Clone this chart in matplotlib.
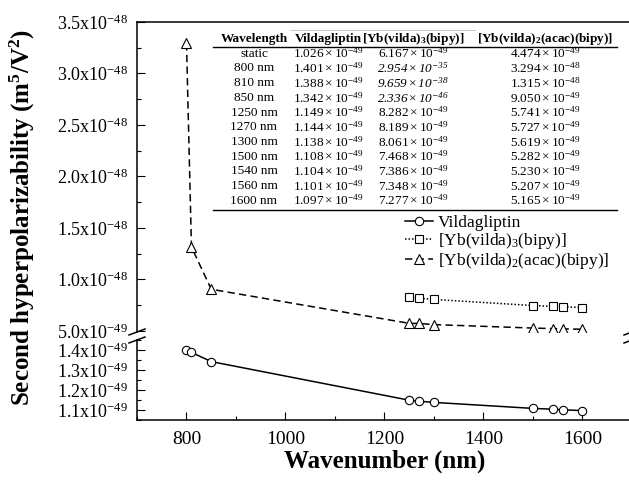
import numpy as np
import matplotlib
matplotlib.use('Agg')
import matplotlib.pyplot as plt
from matplotlib.lines import Line2D
from matplotlib.ticker import MultipleLocator, FuncFormatter

plt.rcParams['font.family'] = 'Liberation Serif'
plt.rcParams['mathtext.fontset'] = 'custom'
plt.rcParams['mathtext.rm'] = 'Liberation Serif'
plt.rcParams['mathtext.it'] = 'Liberation Serif:italic'
plt.rcParams['mathtext.bf'] = 'Liberation Serif:bold'

# table / data
row_labels = ['static', '800 nm', '810 nm', '850 nm', '1250 nm', '1270 nm',
              '1300 nm', '1500 nm', '1540 nm', '1560 nm', '1600 nm']
wavelengths = [800, 810, 850, 1250, 1270, 1300, 1500, 1540, 1560, 1600]
vilda = [1.026e-49, 1.401e-49, 1.388e-49, 1.342e-49, 1.149e-49, 1.144e-49,
         1.138e-49, 1.108e-49, 1.104e-49, 1.101e-49, 1.097e-49]
yb3 = [6.167e-49, 2.954e-35, 9.659e-38, 2.336e-46, 8.282e-49, 8.189e-49,
       8.061e-49, 7.468e-49, 7.386e-49, 7.348e-49, 7.277e-49]
yb2 = [4.474e-49, 3.294e-48, 1.315e-48, 9.050e-49, 5.741e-49, 5.727e-49,
       5.619e-49, 5.282e-49, 5.230e-49, 5.207e-49, 5.165e-49]
italic_rows_yb3 = ['800 nm', '810 nm', '850 nm']

W, H = 629, 484


def fx(px):
    return px / W


def fy(py):
    return 1 - py / H


def split_exp(v):
    e = int(np.floor(np.log10(v) + 1e-9))
    return v / 10.0 ** e, e


def cell_fmt(v):
    m, e = split_exp(v)
    return r'$\mathdefault{%.3f}\times\mathdefault{10^{%d}}$' % (m, e)


def tick_fmt(v, pos):
    if v <= 0:
        return ''
    m, e = split_exp(v)
    return r'%.1fx10$^{%d}$' % (m, e)


fig = plt.figure(figsize=(W / 100, H / 100), dpi=100)

left, right = 137, 632
ax_up = fig.add_axes([fx(left), fy(332), fx(right - left), (332 - 22) / H])
ax_lo = fig.add_axes([fx(left), fy(420), fx(right - left), (420 - 340) / H])

wl = np.array(wavelengths)
v_arr = np.array(vilda[1:])
y3_arr = np.array(yb3[1:])
y2_arr = np.array(yb2[1:])
keep = y3_arr < 3.5e-48

lw = 1.1
l1, = ax_lo.plot(wl, v_arr, '-', color='black', lw=lw, marker='o', ms=6,
                 mfc='white', mec='black', mew=0.8, label='Vildagliptin')
l2, = ax_up.plot(wl[keep], y3_arr[keep], linestyle=(0, (1, 1.3)), color='black', lw=lw,
                 marker='s', ms=5.5, mfc='white', mec='black', mew=0.8,
                 label=r'[Yb(vilda)$_3$(bipy)]')
l3, = ax_up.plot(wl, y2_arr, linestyle=(0, (4.8, 2.8)), color='black', lw=lw,
                 marker='^', ms=7, mfc='white', mec='black', mew=0.8,
                 label=r'[Yb(vilda)$_2$(acac)(bipy)]')

for ax in (ax_up, ax_lo):
    ax.set_xlim(700, 1700)
    for s in ax.spines.values():
        s.set_linewidth(1.1)
    ax.yaxis.set_major_formatter(FuncFormatter(tick_fmt))
    ax.tick_params(axis='y', which='both', direction='in', right=False,
                   labelsize=13, pad=6.5)
    ax.tick_params(axis='y', which='major', length=5.5, width=0.8)
    ax.tick_params(axis='y', which='minor', length=3, width=0.8)

ax_up.set_ylim(4.9e-49, 3.5e-48)
ax_up.yaxis.set_major_locator(MultipleLocator(5e-49))
ax_up.yaxis.set_minor_locator(MultipleLocator(2.5e-49))
ax_up.spines['bottom'].set_visible(False)
ax_up.tick_params(axis='x', which='both', bottom=False, top=False, labelbottom=False)

ax_lo.set_ylim(1.05e-49, 1.45e-49)
ax_lo.yaxis.set_major_locator(MultipleLocator(1e-50))
ax_lo.yaxis.set_minor_locator(MultipleLocator(5e-51))
ax_lo.spines['top'].set_visible(False)
ax_lo.xaxis.set_major_locator(MultipleLocator(200))
ax_lo.xaxis.set_minor_locator(MultipleLocator(100))
ax_lo.tick_params(axis='x', which='both', direction='in', top=False, labelsize=14, pad=8)
ax_lo.tick_params(axis='x', which='major', length=6, width=0.8)
ax_lo.tick_params(axis='x', which='minor', length=3, width=0.8)

# axis break marks
for xs in (left, right):
    for yc in (332, 340):
        fig.add_artist(Line2D([fx(xs - 8), fx(xs + 8)], [fy(yc + 3), fy(yc - 3)],
                              color='black', lw=1.1))

fig.text(fx(22), fy(218), r'Second hyperpolarizability (m$^{\mathbf{5}}$/V$^{\mathbf{2}}$)',
         rotation=90, ha='center', va='center', fontsize=18, fontweight='bold')
fig.text(fx(385), fy(461), 'Wavenumber (nm)', ha='center', va='center',
         fontsize=18, fontweight='bold')

fig.legend(handles=[l1, l2, l3], loc='upper left',
           bbox_to_anchor=(fx(405), fy(215)), frameon=False, fontsize=12.5,
           handlelength=1.6, handletextpad=0.3, labelspacing=0.0,
           borderpad=0, borderaxespad=0)

# inset table
col_x = [254, 328, 413, 545]
headers = ['Wavelength', 'Vildagliptin', r'[Yb(vilda)$_{\mathbf{3}}$(bipy)]',
           r'[Yb(vilda)$_{\mathbf{2}}$(acac)(bipy)]']
head_y = 39
row_h = 14.7
tsize = 9.5
for cx, h in zip(col_x, headers):
    fig.text(fx(cx), fy(head_y), h, ha='center', va='center', fontsize=tsize,
             fontweight='bold')
for i, lab in enumerate(row_labels):
    ry = head_y + row_h * (i + 1)
    fig.text(fx(col_x[0]), fy(ry), lab, ha='center', va='center', fontsize=tsize)
    fig.text(fx(col_x[1]), fy(ry), cell_fmt(vilda[i]), ha='center', va='center',
             fontsize=tsize)
    fig.text(fx(col_x[2]), fy(ry), cell_fmt(yb3[i]), ha='center', va='center',
             fontsize=tsize,
             fontstyle='italic' if lab in italic_rows_yb3 else 'normal')
    fig.text(fx(col_x[3]), fy(ry), cell_fmt(yb2[i]), ha='center', va='center',
             fontsize=tsize)

fig.add_artist(Line2D([fx(290), fx(475)], [fy(30), fy(30)], color='0.75', lw=0.6))
fig.add_artist(Line2D([fx(213), fx(617)], [fy(46.5), fy(46.5)], color='black', lw=1.0))
fig.add_artist(Line2D([fx(213), fx(617)], [fy(210), fy(210)], color='black', lw=1.0))

fig.savefig('out.png', dpi=100)
